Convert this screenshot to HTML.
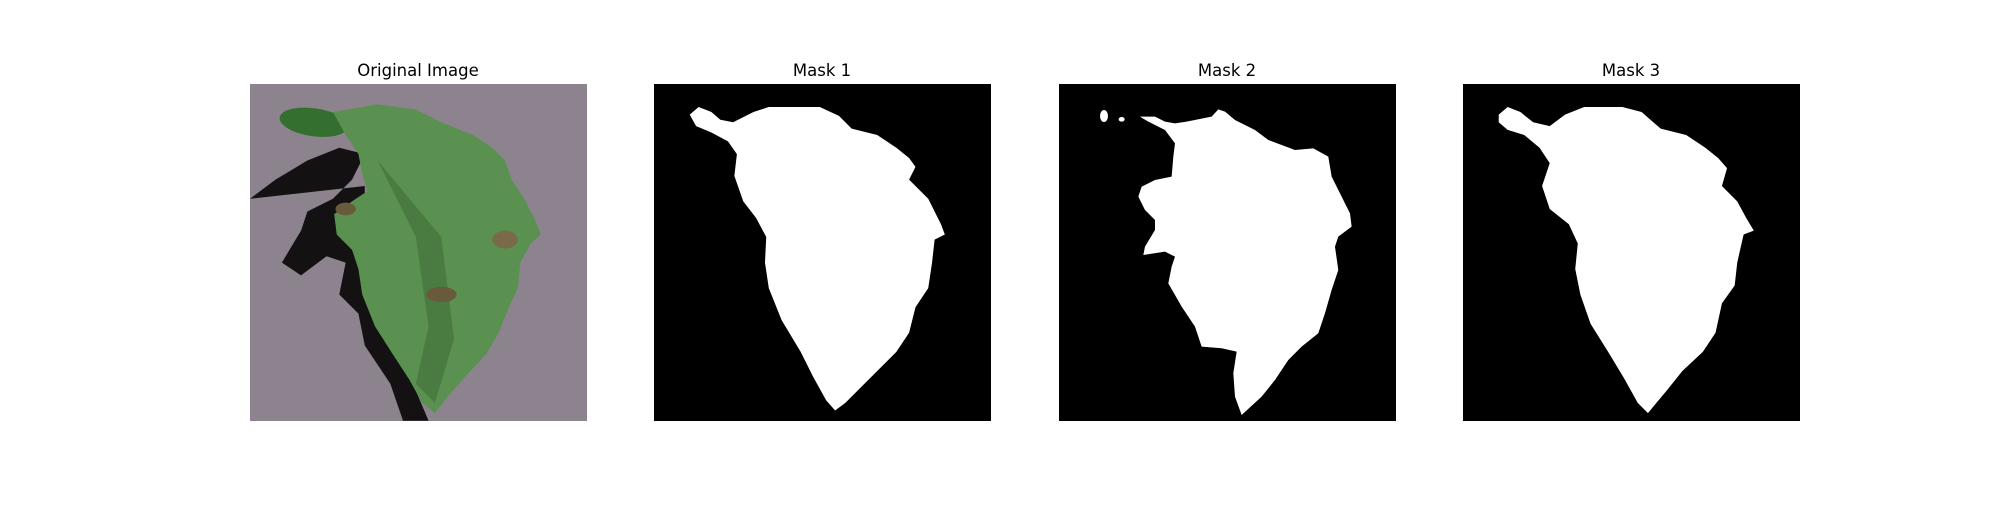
<!DOCTYPE html>
<html><head><meta charset="utf-8"><style>
body{margin:0;background:#fff}
text{font-family:"DejaVu Sans","Liberation Sans",sans-serif;font-size:16.5px;fill:#000}
</style></head><body>
<svg width="2000" height="500" viewBox="0 0 2000 500" xmlns="http://www.w3.org/2000/svg">
<g>
<text x="418" y="76" text-anchor="middle">Original Image</text>
<g transform="translate(250,84)">
<rect width="337" height="337" fill="#8d838e"/>
<g transform="scale(1.2755)">
<path d="M0,90 L20,75 L45,60 L70,50 L90,55 L80,75 L65,90 L45,100 L40,115 L25,140 L40,150 L60,135 L75,140 L70,165 L85,180 L90,205 L110,235 L120,264 L140,264 L115,205 L95,160 L90,120 L90,80 Z" fill="#141113"/>
<ellipse cx="50" cy="30" rx="27" ry="11" fill="#356f30" transform="rotate(8 50 30)"/>
<path d="M65,22 L100,16 L130,20 L150,30 L175,40 L190,50 L200,60 L205,75 L215,90 L225,110 L228,118 L220,125 L212,140 L210,160 L203,175 L195,195 L185,212 L170,228 L155,245 L145,258 L135,250 L125,232 L112,212 L98,190 L88,165 L85,145 L80,130 L68,118 L66,102 L80,92 L92,84 L88,70 L85,55 L75,40 Z" fill="#5a9150"/>
<path d="M100,60 L150,120 L160,200 L145,250 L130,235 L140,190 L130,120 Z" fill="#4a7c42"/>
<ellipse cx="200" cy="122" rx="10" ry="7" fill="#7a6a4a"/>
<ellipse cx="150" cy="165" rx="12" ry="6" fill="#6a5a3c"/>
<ellipse cx="75" cy="98" rx="8" ry="5" fill="#6a5a3c"/>
</g>
</g>
</g>
<g>
<text x="822" y="76" text-anchor="middle">Mask 1</text>
<g transform="translate(654,84)">
<rect width="337" height="337" fill="#000"/>
<path transform="scale(1.2755)" d="M28,24 L35,18 L45,22 L52,28 L62,30 L78,22 L90,18 L130,18 L145,25 L155,35 L175,40 L190,50 L200,58 L205,65 L200,75 L215,90 L225,110 L228,118 L220,122 L218,140 L215,160 L205,175 L200,195 L190,210 L175,225 L160,240 L150,250 L142,256 L135,248 L125,230 L115,210 L100,185 L90,160 L87,140 L88,120 L80,105 L70,92 L63,72 L65,55 L58,45 L45,38 L33,33 Z" fill="#fff"/>
</g>
</g>
<g>
<text x="1227" y="76" text-anchor="middle">Mask 2</text>
<g transform="translate(1059,84)">
<rect width="337" height="337" fill="#000"/>
<g transform="scale(0.3333) translate(-12,-12)">
<path d="M255,110 L300,110 L330,125 L360,130 L395,125 L470,110 L490,88 L510,95 L540,120 L600,150 L640,180 L720,210 L775,205 L820,230 L830,290 L860,350 L885,400 L890,440 L850,470 L840,500 L850,570 L830,630 L810,700 L790,760 L740,800 L700,840 L660,900 L620,950 L560,1005 L540,950 L535,880 L545,815 L500,805 L440,800 L420,740 L380,680 L340,610 L350,560 L360,530 L330,515 L265,525 L270,500 L300,450 L300,420 L270,390 L250,350 L260,320 L300,300 L350,290 L355,230 L360,190 L330,150 L280,125 Z" fill="#fff"/>
<ellipse cx="147" cy="108" rx="12" ry="18" fill="#fff"/>
<ellipse cx="200" cy="118" rx="9" ry="7" fill="#fff"/>
</g>
</g>
</g>
<g>
<text x="1631" y="76" text-anchor="middle">Mask 3</text>
<g transform="translate(1463,84)">
<rect width="337" height="337" fill="#000"/>
<path transform="scale(1.2755)" d="M28,24 L35,18 L45,22 L55,30 L68,33 L80,24 L95,18 L125,18 L140,22 L155,35 L175,40 L190,50 L200,58 L207,66 L203,80 L215,92 L222,105 L228,115 L220,118 L215,140 L213,158 L203,172 L198,195 L188,210 L172,225 L160,240 L150,252 L145,258 L137,250 L127,232 L115,212 L100,188 L92,165 L88,145 L90,125 L83,110 L68,98 L62,80 L68,62 L60,50 L48,40 L35,36 L28,30 Z" fill="#fff"/>
</g>
</g>
</svg>
</body></html>
